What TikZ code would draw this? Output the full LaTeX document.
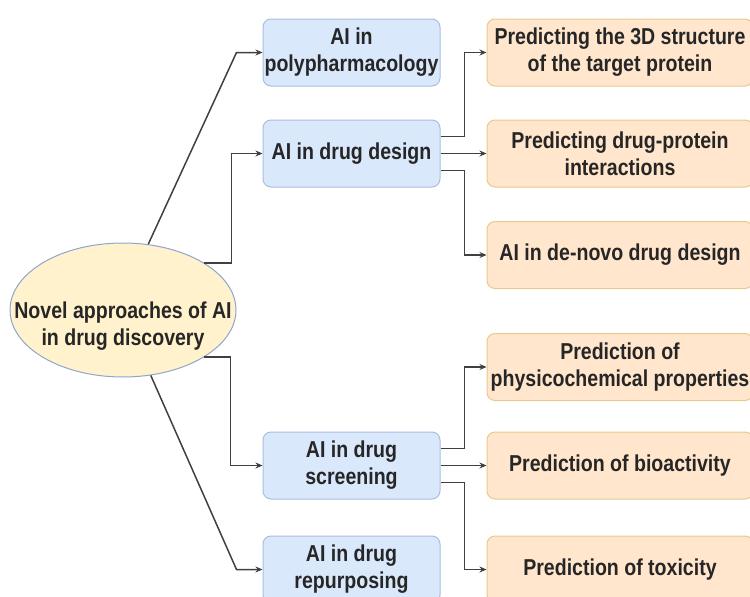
\documentclass[tikz,border=0pt]{standalone}
\usepackage{fontspec}
\setmainfont{Liberation Sans}[FakeStretch=0.85]
\usetikzlibrary{arrows.meta,shapes.geometric}

\definecolor{hubfill}{HTML}{FFF2CC}
\definecolor{hubline}{HTML}{8FA6CC}
\definecolor{branchfill}{HTML}{DAE8FC}
\definecolor{branchline}{HTML}{A9BEDD}
\definecolor{leaffill}{HTML}{FFE6CC}
\definecolor{leafline}{HTML}{E8C98F}
\definecolor{linkgray}{HTML}{404040}
\definecolor{textgray}{HTML}{262626}

\begin{document}
\begin{tikzpicture}[x=1pt,y=-1pt,
  every node/.append style={font=\fontsize{23}{27}\selectfont\bfseries,text=textgray,align=center},
  hub/.style={ellipse,draw=hubline,fill=hubfill,line width=1pt,minimum width=226pt,minimum height=134pt,inner sep=0pt},
  branch/.style={rounded corners=8pt,draw=branchline,fill=branchfill,line width=1pt,minimum width=177pt,minimum height=67pt,inner sep=0pt},
  leaf/.style={rounded corners=8pt,draw=leafline,fill=leaffill,line width=1pt,minimum width=266pt,minimum height=67pt,inner sep=0pt},
  link/.style={draw=linkgray,line width=1.5pt,-{Stealth[length=7pt,width=6pt]}}]

\useasboundingbox (0,0) rectangle (750,597);
\clip (0,0) rectangle (750,597);

% Centre
\node[hub] (main) at (123,310) {};
\node[inner sep=0pt] (mainlabel) at (123,326) {Novel approaches of AI\\in drug discovery};

% Branches
\node[branch] (poly) at (351.5,52.5) {AI in\\polypharmacology};
\node[branch] (design) at (351.5,153.5) {AI in drug design};
\node[branch] (screen) at (351.5,465.5) {AI in drug\\screening};
\node[branch] (repur) at (351.5,569.5) {AI in drug\\repurposing};

% Leaves
\node[leaf] (struct) at (620,52.5) {Predicting the 3D structure\\of the target protein};
\node[leaf] (inter) at (620,153.5) {Predicting drug-protein\\interactions};
\node[leaf] (denovo) at (620,255) {AI in de-novo drug design};
\node[leaf] (physchem) at (620,367) {Prediction of\\physicochemical properties};
\node[leaf] (bioact) at (620,465.5) {Prediction of bioactivity};
\node[leaf] (toxic) at (620,569.5) {Prediction of toxicity};

% Centre to branches
\draw[link] (main.69) -- ([xshift=-26pt]poly.west) -- (poly.west);
\draw[link] (main.30) -- ++(27,0) |- (design.west);
\draw[link] (main.-30) -- ++(26,0) |- (screen.west);
\draw[link] (main.-67) -- ([xshift=-26pt]repur.west) -- (repur.west);

% Branches to leaves
\draw[link] ([yshift=17pt]design.east) -- ++(24,0) |- (struct.west);
\draw[link] (design.east) -- (inter.west);
\draw[link] ([yshift=-17pt]design.east) -- ++(24,0) |- (denovo.west);

\draw[link] ([yshift=17pt]screen.east) -- ++(24,0) |- (physchem.west);
\draw[link] (screen.east) -- (bioact.west);
\draw[link] ([yshift=-17pt]screen.east) -- ++(24,0) |- (toxic.west);

\end{tikzpicture}
\end{document}
